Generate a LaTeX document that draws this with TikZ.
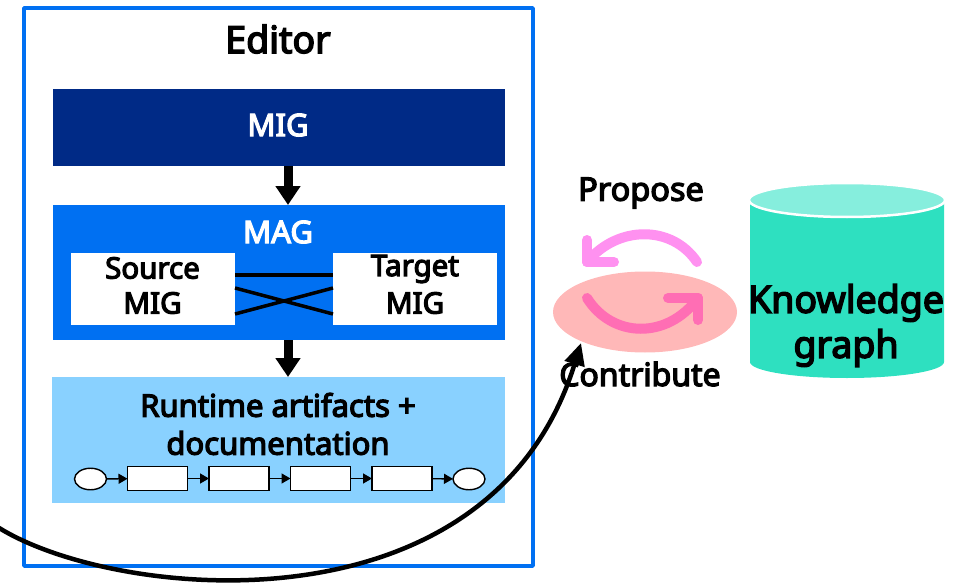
\documentclass[tikz,border=0pt]{standalone}
\usepackage{fontspec}
\setmainfont{Noto Sans}[FakeBold=4]
\usetikzlibrary{arrows.meta,shapes.geometric}
\definecolor{frameblue}{HTML}{0070F2}
\definecolor{navy}{HTML}{002A86}
\definecolor{sky}{HTML}{89D1FF}
\definecolor{salmon}{HTML}{FFB8B8}
\definecolor{teal}{HTML}{2EE0C0}
\definecolor{lightteal}{HTML}{86EEDD}
\definecolor{lilac}{HTML}{FF91F0}
\definecolor{rosepink}{HTML}{FF6EB4}
\tikzset{
 x=1pt,y=-1pt,
 lab/.style={font=\fontsize{31}{36}\selectfont,inner sep=0pt,align=center},
 smalllab/.style={font=\fontsize{29.5}{36}\selectfont,inner sep=0pt,align=center},
 biglab/.style={font=\fontsize{37.5}{40}\selectfont,inner sep=0pt,align=center},
 bigarrow/.style={line width=9pt,-{Triangle[length=19pt,width=24pt]}},
 crossline/.style={line width=3.5pt},
 flowbox/.style={draw=black,fill=white,line width=1.4pt,minimum width=60pt,minimum height=23.5pt,inner sep=0pt,outer sep=0pt},
 flowend/.style={draw=black,fill=white,line width=1.4pt,ellipse,minimum width=32pt,minimum height=21.5pt,inner sep=0pt,outer sep=0pt},
 flowarrow/.style={line width=1.4pt,-{Triangle[length=9pt,width=10pt]}},
 turnarrow/.style={line width=10pt,line cap=round,line join=round},
 panel/.style={minimum width=#1,inner sep=0pt,outer sep=0pt,anchor=north west},
}
\begin{document}
\begin{tikzpicture}
\useasboundingbox (0,0) rectangle (969,583);
% editor
\node[panel=509pt,draw=frameblue,line width=3.5pt,line join=round,minimum height=558pt] (editor) at (24,8) {};
\node[biglab] (edlab) at (278,39) {Editor};
\node[panel=452pt,fill=navy,minimum height=77pt] (mig) at (53,89) {};
\node[lab,text=white] (miglab) at (278,125) {MIG};
\node[panel=452pt,fill=frameblue,minimum height=135pt] (mag) at (53,205) {};
\node[lab,text=white] (maglab) at (278,232) {MAG};
\node[panel=164pt,fill=white,minimum height=72pt] (src) at (71,253) {};
\node[panel=164pt,fill=white,minimum height=72pt] (tgt) at (333,253) {};
\node[smalllab] (srcA) at (152.5,268) {Source};
\node[smalllab] (srcB) at (152.5,303) {MIG};
\node[smalllab] (tgtA) at (415,269) {Target};
\node[smalllab] (tgtB) at (415,303) {MIG};
\draw[crossline] (src.east |- 0,275) -- (tgt.west |- 0,275);
\draw[crossline] (src.east |- 0,288) -- (tgt.west |- 0,314);
\draw[crossline] (src.east |- 0,314) -- (tgt.west |- 0,288);
\node[panel=453pt,fill=sky,minimum height=126pt] (run) at (52,377) {};
\node[lab] (runA) at (278,405) {Runtime artifacts +};
\node[lab] (runB) at (278,443) {documentation};
\draw[bigarrow] (mig.south -| 288,0) -- (mag.north -| 288,0);
\draw[bigarrow] (mag.south -| 288,0) -- (run.north -| 288,0);
% flow
\node[flowend] (f0) at (90.5,479) {};
\node[flowbox] (f1) at (157.5,478.5) {};
\node[flowbox] (f2) at (239,478.5) {};
\node[flowbox] (f3) at (320.5,478.5) {};
\node[flowbox] (f4) at (402,478.5) {};
\node[flowend] (f5) at (469,479) {};
\foreach \a/\b in {f0/f1,f1/f2,f2/f3,f3/f4,f4/f5}
  \draw[flowarrow] (\a) -- (\b);
% exchange
\node[fill=salmon,ellipse,minimum width=184pt,minimum height=81pt,inner sep=0pt] (pool) at (645,312) {};
\node[font=\fontsize{32.5}{36}\selectfont,inner sep=0pt] (prop) at (641,193) {Propose};
\node[font=\fontsize{32}{36}\selectfont,inner sep=0pt] (contr) at (640,374) {Contribute};
\draw[turnarrow,lilac] (697,262) .. controls (672,225) and (618,225) .. (587,262);
\draw[turnarrow,lilac] (587,240) -- (587,262) -- (614,262);
\draw[turnarrow,rosepink] (587,298) .. controls (612,338) and (667,340) .. (698,298);
\draw[turnarrow,rosepink] (668,298) -- (698,298) -- (698,320);
% knowledge graph
\fill[teal] (750,200) -- (750,362) arc[start angle=180,end angle=0,x radius=97,y radius=16] -- (944,200) -- cycle;
\draw[draw=white,fill=lightteal,line width=2.5pt] (847,200) ellipse[x radius=98,y radius=17];
\node[biglab] (kg1) at (846,303) {Knowledge};
\node[biglab] (kg2) at (846,348) {graph};
% long curve
\coordinate (cstart) at (-4,526);
\coordinate (ctip) at (581,343);
\draw[line width=4.5pt,-{Triangle[length=22pt,width=20pt]}] (cstart) .. controls (110,600) and (490,640) .. (ctip);
\end{tikzpicture}
\end{document}
